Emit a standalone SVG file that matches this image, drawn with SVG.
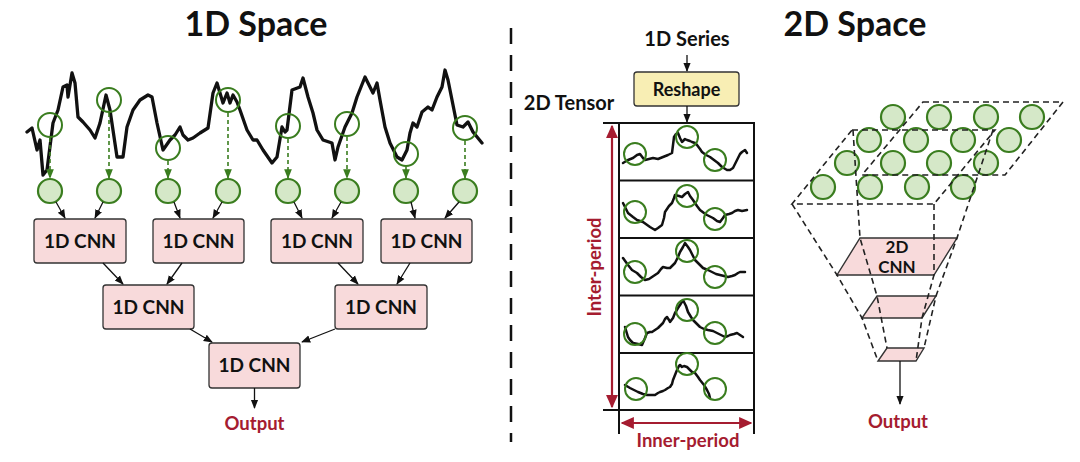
<svg xmlns="http://www.w3.org/2000/svg" width="1080" height="462" viewBox="0 0 1080 462">
<defs>
<style>
.t{font-family:Lato,"Liberation Sans",sans-serif;font-weight:bold;fill:#111;text-anchor:middle}
.red{fill:#a51c30}
.box{fill:#f8dadb;stroke:#333;stroke-width:1.3}
.gc{fill:#d5e8c8;stroke:#3a7d1f;stroke-width:2.2}
.go{fill:none;stroke:#3a7d1f;stroke-width:2}
.wave{fill:none;stroke:#111;stroke-width:3.3;stroke-linejoin:round;stroke-linecap:round}
.wv2{fill:none;stroke:#111;stroke-width:2.5;stroke-linejoin:round;stroke-linecap:round}
.ar{stroke:#111;stroke-width:1.3;fill:none;marker-end:url(#ab)}
.ga{stroke:#3a7d1f;stroke-width:1.6;stroke-dasharray:4 3;fill:none;marker-end:url(#ag)}
.dl{stroke:#222;stroke-width:1.6;stroke-dasharray:6 4;fill:none}
.tl{stroke:#111;stroke-width:2;fill:none}
.ra{stroke:#a51c30;stroke-width:2.2;fill:none;marker-end:url(#ar);marker-start:url(#ar)}
.pk{fill:#f8dadb;stroke:#333;stroke-width:1.4}
</style>
<marker id="ab" viewBox="0 0 10 10" refX="9" refY="5" markerWidth="7" markerHeight="7" orient="auto"><path d="M0,1 L10,5 L0,9 z" fill="#111"/></marker>
<marker id="ag" viewBox="0 0 10 10" refX="9" refY="5" markerWidth="6" markerHeight="6" orient="auto"><path d="M0,1 L10,5 L0,9 z" fill="#3a7d1f"/></marker>
<marker id="ar" viewBox="0 0 10 10" refX="9" refY="5" markerWidth="6" markerHeight="6" orient="auto-start-reverse"><path d="M0,0.5 L10,5 L0,9.5 z" fill="#a51c30"/></marker>
</defs>
<rect width="1080" height="462" fill="#fff"/>

<g id="titles">
<text class="t" x="256" y="36" font-size="34">1D Space</text>
<text class="t" x="855" y="36" font-size="34">2D Space</text>
</g>

<g id="divider"><line x1="511" y1="28" x2="511" y2="442" stroke="#111" stroke-width="2.5" stroke-dasharray="16 11"/></g>

<g id="series-1d">
<path class="wave" d="M27,132 L32,128 37,150 40,140 43,175 47,170 53,123 58,110 63,87 67,85 68,97 72,73 75,83 78,117 83,122 90,130 95,138 100,123 106,95 110,110 117,157 123,157 127,127 133,110 140,100 148,95 152,97 157,123 163,150 170,140 175,135 180,127 183,135 188,140 193,138 200,133 208,128 213,93 217,83 220,93 223,103 227,93 230,103 233,95 237,102 240,110 247,130 253,140 257,140 263,150 272,163 277,157 282,127 285,132 287,130 292,90 300,87 303,78 308,97 313,113 317,130 323,140 332,143 335,160 338,147 345,127 352,113 357,97 365,77 373,93 377,83 380,100 385,127 390,143 397,157 402,160 407,150 410,133 413,123 417,127 422,112 428,107 432,110 437,97 442,87 445,70 448,80 452,100 457,125 463,127 468,122 473,132 482,143"/>
<circle class="go" cx="50" cy="125" r="12"/>
<circle class="go" cx="109" cy="100" r="12"/>
<circle class="go" cx="168" cy="148" r="12"/>
<circle class="go" cx="228" cy="100" r="12"/>
<circle class="go" cx="288" cy="126" r="12"/>
<circle class="go" cx="347" cy="124" r="12"/>
<circle class="go" cx="406" cy="154" r="12"/>
<circle class="go" cx="465" cy="128" r="12"/>
</g>

<g id="points-1d">
<circle class="gc" cx="50" cy="191" r="12"/>
<circle class="gc" cx="109" cy="191" r="12"/>
<circle class="gc" cx="168" cy="191" r="12"/>
<circle class="gc" cx="228" cy="191" r="12"/>
<circle class="gc" cx="288" cy="191" r="12"/>
<circle class="gc" cx="347" cy="191" r="12"/>
<circle class="gc" cx="406" cy="191" r="12"/>
<circle class="gc" cx="465" cy="191" r="12"/>
</g>

<g id="cnn1d-a"><rect class="box" x="34" y="219" width="92" height="44" rx="3"/><text class="t" x="80" y="247.5" font-size="19">1D CNN</text></g>
<g id="cnn1d-b"><rect class="box" x="153" y="219" width="91" height="44" rx="3"/><text class="t" x="198.5" y="247.5" font-size="19">1D CNN</text></g>
<g id="cnn1d-c"><rect class="box" x="271" y="219" width="92" height="44" rx="3"/><text class="t" x="317" y="247.5" font-size="19">1D CNN</text></g>
<g id="cnn1d-d"><rect class="box" x="381" y="219" width="91" height="44" rx="3"/><text class="t" x="426.5" y="247.5" font-size="19">1D CNN</text></g>
<g id="cnn1d-e"><rect class="box" x="103" y="285" width="91" height="44" rx="3"/><text class="t" x="148.5" y="313.5" font-size="19">1D CNN</text></g>
<g id="cnn1d-f"><rect class="box" x="335" y="285" width="92" height="44" rx="3"/><text class="t" x="381" y="313.5" font-size="19">1D CNN</text></g>
<g id="cnn1d-g"><rect class="box" x="209" y="343" width="91" height="45" rx="3"/><text class="t" x="254.5" y="372" font-size="19">1D CNN</text></g>
<g id="output-1d"><text class="t red" x="254.5" y="430" font-size="18.5">Output</text></g>

<g id="connectors-1d">
<line class="ga" x1="50" y1="138" x2="50" y2="178"/>
<line class="ga" x1="109" y1="113" x2="109" y2="178"/>
<line class="ga" x1="168" y1="161" x2="168" y2="178"/>
<line class="ga" x1="228" y1="113" x2="228" y2="178"/>
<line class="ga" x1="288" y1="139" x2="288" y2="178"/>
<line class="ga" x1="347" y1="137" x2="347" y2="178"/>
<line class="ga" x1="406" y1="167" x2="406" y2="178"/>
<line class="ga" x1="465" y1="141" x2="465" y2="178"/>
<line class="ar" x1="56" y1="202" x2="65" y2="218"/>
<line class="ar" x1="103" y1="202" x2="95" y2="218"/>
<line class="ar" x1="174" y1="202" x2="180" y2="218"/>
<line class="ar" x1="222" y1="202" x2="213" y2="218"/>
<line class="ar" x1="294" y1="202" x2="302" y2="218"/>
<line class="ar" x1="341" y1="202" x2="332" y2="218"/>
<line class="ar" x1="411" y1="202" x2="415" y2="218"/>
<line class="ar" x1="459" y1="202" x2="445" y2="218"/>
<line class="ar" x1="103" y1="263" x2="123" y2="284"/>
<line class="ar" x1="182" y1="263" x2="167" y2="284"/>
<line class="ar" x1="338" y1="263" x2="358" y2="284"/>
<line class="ar" x1="410" y1="263" x2="397" y2="284"/>
<line class="ar" x1="190" y1="329" x2="212" y2="342"/>
<line class="ar" x1="335" y1="329" x2="302" y2="342"/>
<line class="ar" x1="254.5" y1="388" x2="254.5" y2="408"/>
</g>

<g id="series-label"><text class="t" x="687" y="46" font-size="20">1D Series</text></g>
<g id="reshape"><rect x="634" y="72" width="105" height="34" rx="3" fill="#f8eeb4" stroke="#333" stroke-width="1.3"/><text class="t" x="686.5" y="95.5" font-size="18">Reshape</text></g>
<g id="tensor-label"><text class="t" x="569" y="110" font-size="20">2D Tensor</text></g>

<g id="tensor">
<rect x="619" y="123" width="135" height="287" fill="none" stroke="#111" stroke-width="2"/>
<line class="tl" x1="603" y1="123" x2="619" y2="123"/>
<line class="tl" x1="603" y1="410" x2="619" y2="410"/>
<line class="tl" x1="619" y1="180.5" x2="754" y2="180.5"/>
<line class="tl" x1="619" y1="238" x2="754" y2="238"/>
<line class="tl" x1="619" y1="295.5" x2="754" y2="295.5"/>
<line class="tl" x1="619" y1="353" x2="754" y2="353"/>
<line class="tl" x1="619" y1="410" x2="619" y2="434"/>
<line class="tl" x1="754" y1="410" x2="754" y2="434"/>
<path class="wv2" d="M623,163 L628,160 633,158 637,155 640,154 643,158 645,160 649,159 653,158 658,159 663,157 668,155 672,153 673,145 674,137 676,134 678,133 680,138 682,142 685,139 687,140 690,141 692,142 695,143 697,145 700,149 702,152 706,155 710,157 714,160 718,163 722,167 727,170 730,170 733,168 736,162 738,158 740,154 742,152 745,150 747,153"/>
<path class="wv2" d="M623,203 L628,213 633,217 637,220 643,222 650,227 655,230 658,228 662,225 664,218 665,212 669,206 672,203 674,198 675,195 679,196 682,197 685,194 688,192 690,196 693,200 697,206 700,210 704,213 707,215 713,218 717,221 720,222 723,218 725,215 729,214 732,213 735,211 738,210 742,211 747,210"/>
<path class="wv2" d="M623,258 L628,265 632,270 637,273 641,277 645,280 649,279 652,277 655,275 658,273 661,269 663,267 667,268 670,268 673,265 675,263 678,257 680,252 683,247 685,243 688,247 690,250 693,256 695,260 699,264 703,268 708,270 712,272 716,274 720,275 724,276 728,277 732,276 735,275 738,273 740,272 745,272"/>
<path class="wv2" d="M625,327 L628,337 630,340 633,343 638,344 642,345 645,338 647,333 650,332 652,332 655,330 658,328 661,325 663,323 665,319 667,317 669,320 670,322 673,318 675,313 678,308 680,305 683,300 686,306 688,312 691,317 693,320 697,324 700,327 704,329 708,330 713,331 717,333 721,335 725,337 728,336 730,335 734,334 737,333 740,335 743,337"/>
<path class="wv2" d="M625,385 L630,388 634,390 638,392 643,394 647,395 651,395 655,395 658,393 660,392 663,391 665,390 668,388 670,387 672,384 673,380 675,375 677,370 679,366 680,365 682,367 684,366 687,367 690,370 692,372 695,373 698,377 700,380 704,385 707,390 709,394 710,398"/>
<circle class="go" cx="635" cy="154" r="11"/><circle class="go" cx="687" cy="137" r="11"/><circle class="go" cx="715" cy="160" r="11"/>
<circle class="go" cx="635" cy="212" r="11"/><circle class="go" cx="687" cy="196" r="11"/><circle class="go" cx="715" cy="219" r="11"/>
<circle class="go" cx="635" cy="272" r="11"/><circle class="go" cx="687" cy="251" r="11"/><circle class="go" cx="715" cy="277" r="11"/>
<circle class="go" cx="635" cy="334" r="11"/><circle class="go" cx="687" cy="310" r="11"/><circle class="go" cx="715" cy="333" r="11"/>
<circle class="go" cx="636" cy="389" r="11"/><circle class="go" cx="687" cy="364" r="11"/><circle class="go" cx="715" cy="389" r="11"/>
</g>

<g id="period-axes">
<line class="ra" x1="612" y1="126" x2="612" y2="407"/>
<line class="ra" x1="622" y1="423" x2="751" y2="423"/>
<text class="t red" x="0" y="0" font-size="18.5" transform="translate(601,267) rotate(-90)">Inter-period</text>
<text class="t red" x="688" y="447" font-size="18.5">Inner-period</text>
</g>

<g id="connectors-mid">
<line class="ar" x1="687" y1="55" x2="687" y2="71"/>
<line class="ar" x1="687" y1="106" x2="687" y2="122"/>
</g>

<g id="grid-2d">
<circle class="gc" cx="893" cy="117" r="12"/><circle class="gc" cx="939" cy="117" r="12"/><circle class="gc" cx="986" cy="117" r="12"/><circle class="gc" cx="1032" cy="117" r="12"/>
<circle class="gc" cx="869" cy="140" r="12"/><circle class="gc" cx="916" cy="140" r="12"/><circle class="gc" cx="963" cy="140" r="12"/><circle class="gc" cx="1009" cy="140" r="12"/>
<circle class="gc" cx="847" cy="163" r="12"/><circle class="gc" cx="893" cy="163" r="12"/><circle class="gc" cx="939" cy="163" r="12"/><circle class="gc" cx="986" cy="163" r="12"/>
<circle class="gc" cx="823" cy="187" r="12"/><circle class="gc" cx="870" cy="187" r="12"/><circle class="gc" cx="917" cy="187" r="12"/><circle class="gc" cx="963" cy="187" r="12"/>
</g>

<g id="cnn2d">
<polygon class="pk" points="860,238 957,238 934,275 837,275"/>
<polygon class="pk" points="877,296 936,296 922,318 862,318"/>
<polygon class="pk" points="887,348 924,348 916,361 878,361"/>
</g>

<g id="frustum">
<polygon class="dl" points="923,102 1063,102 1005,175 862,175"/>
<polygon class="dl" points="852,130 995,130 934,204 792,204"/>
<polyline class="dl" points="792,204 837,275 862,318 878,361"/>
<polyline class="dl" points="853,130 860,238 877,296 887,348"/>
<polyline class="dl" points="934,204 934,275 922,318 916,361"/>
<polyline class="dl" points="993,130 957,238 936,296 924,348"/>
</g>

<g id="cnn2d-label"><text class="t" x="897" y="253" font-size="17">2D</text><text class="t" x="897" y="273" font-size="17">CNN</text></g>

<g id="output-2d">
<line class="ar" x1="900" y1="361" x2="900" y2="404"/>
<text class="t red" x="898" y="428" font-size="18.5">Output</text>
</g>
</svg>
